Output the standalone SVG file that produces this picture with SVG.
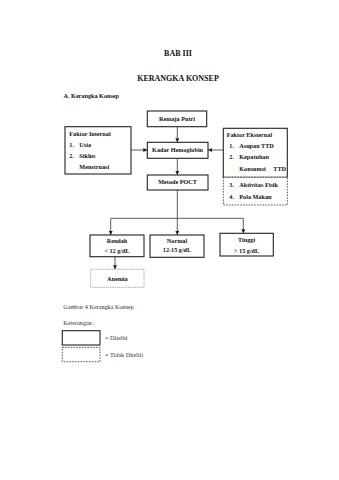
<svg xmlns="http://www.w3.org/2000/svg" width="339" height="480" viewBox="0 0 339 480">
<defs>
<style>
text{font-family:"Liberation Serif","Times New Roman",serif;fill:#111}
.b{font-weight:bold;font-size:6.2px}
.h{font-weight:bold;font-size:8px}
.n{font-size:6.2px;fill:#333}
.box{fill:#fff;stroke:#222;stroke-width:1.1}
.dash{fill:#fff;stroke:#444;stroke-width:0.9;stroke-dasharray:1.6 1.2}
.dot{fill:#fff;stroke:#777;stroke-width:0.7;stroke-dasharray:1 0.8}
.ln{fill:none;stroke:#333;stroke-width:0.8}
</style>
<marker id="ar" viewBox="0 0 6 6" refX="6" refY="3" markerWidth="4" markerHeight="4" orient="auto" markerUnits="userSpaceOnUse">
<path d="M0,0 L6,3 L0,6 z" fill="#222"/>
</marker>
</defs>
<rect width="339" height="480" fill="#fff"/>
<text class="h" x="178" y="56" text-anchor="middle">BAB III</text>
<text class="h" x="178" y="80.5" text-anchor="middle">KERANGKA KONSEP</text>
<text class="b" x="63.5" y="98.3">A.  Kerangka Konsep</text>

<g id="connectors">
<line class="ln" x1="177.3" y1="126.7" x2="177.3" y2="142.3" marker-end="url(#ar)"/>
<line class="ln" x1="131" y1="150" x2="147.3" y2="150" marker-end="url(#ar)"/>
<line class="ln" x1="223.3" y1="150" x2="208" y2="150" marker-end="url(#ar)"/>
<line class="ln" x1="177.3" y1="158.3" x2="177.3" y2="175" marker-end="url(#ar)"/>
<polyline class="ln" points="177.3,190 177.3,218.3"/>
<polyline class="ln" points="110.7,218.3 243.3,218.3"/>
<line class="ln" x1="110.7" y1="218.3" x2="110.7" y2="235" marker-end="url(#ar)"/>
<line class="ln" x1="177.3" y1="218.3" x2="177.3" y2="235" marker-end="url(#ar)"/>
<line class="ln" x1="243.3" y1="218.3" x2="243.3" y2="233.3" marker-end="url(#ar)"/>
<line class="ln" x1="115" y1="256.7" x2="115" y2="269.3" marker-end="url(#ar)"/>
</g>

<g id="remaja">
<rect class="box" x="147.3" y="111" width="59.4" height="15.7"/>
<text class="b" x="177" y="120.5" text-anchor="middle">Remaja Putri</text>
</g>
<g id="kadar">
<rect class="box" x="147.3" y="142.3" width="60.7" height="16"/>
<text class="b" x="177.6" y="152" text-anchor="middle">Kadar Hemoglobin</text>
</g>
<g id="faktor-internal">
<rect class="box" x="65" y="126.7" width="66" height="47.3"/>
<text class="b" x="69.3" y="135.7">Faktor Internal</text>
<text class="b" x="69.3" y="146.7">1.</text><text class="b" x="79.3" y="146.7">Usia</text>
<text class="b" x="69.3" y="157.7">2.</text><text class="b" x="79.3" y="157.7">Siklus</text>
<text class="b" x="79.3" y="169.3">Menstruasi</text>
</g>
<g id="faktor-eksternal">
<rect class="box" x="223.3" y="128.3" width="64" height="49"/>
<text class="b" x="226.7" y="136.7">Faktor Eksternal</text>
<text class="b" x="229.3" y="148.3">1.</text><text class="b" x="239.3" y="148.3">Asupan TTD</text>
<text class="b" x="229.3" y="159.3">2.</text><text class="b" x="239.3" y="159.3">Kepatuhan</text>
<text class="b" x="239.3" y="171">Konsumsi</text><text class="b" x="286" y="171" text-anchor="end">TTD</text>
</g>
<g id="faktor-eksternal-tidak">
<rect class="dash" x="223.3" y="177.3" width="64" height="27.7"/>
<text class="b" x="229.3" y="186.7">3.</text><text class="b" x="239.3" y="186.7">Aktivitas Fisik</text>
<text class="b" x="229.3" y="199.3">4.</text><text class="b" x="239.3" y="199.3">Pola Makan</text>
</g>
<g id="metode">
<rect class="box" x="147.3" y="175" width="60.7" height="15"/>
<text class="b" x="177.6" y="184" text-anchor="middle">Metode POCT</text>
</g>
<g id="rendah">
<rect class="box" x="90" y="235" width="54" height="21.7"/>
<text class="b" x="117" y="243.3" text-anchor="middle">Rendah</text>
<text class="b" x="117" y="253.3" text-anchor="middle">&lt; 12 g/dL</text>
</g>
<g id="normal">
<rect class="box" x="150" y="235" width="54" height="22.3"/>
<text class="b" x="177" y="242.5" text-anchor="middle">Normal</text>
<text class="b" x="177" y="252" text-anchor="middle">12-15 g/dL</text>
</g>
<g id="tinggi">
<rect class="box" x="220" y="233.3" width="53.3" height="22.7"/>
<text class="b" x="246.6" y="241.7" text-anchor="middle">Tinggi</text>
<text class="b" x="246.6" y="252.7" text-anchor="middle">&gt; 15 g/dL</text>
</g>
<g id="anemia">
<rect class="dot" x="90.7" y="269.3" width="53.3" height="18"/>
<text class="b" x="117.3" y="280.7" text-anchor="middle">Anemia</text>
</g>

<text class="n" x="63.3" y="309.3">Gambar 4 Kerangka Konsep</text>
<text class="n" x="63.3" y="325">Keterangan :</text>
<g id="legend-diteliti">
<rect class="box" x="62.3" y="330.7" width="37.7" height="14.3"/>
<text class="n" x="105" y="340.3">= Diteliti</text>
</g>
<g id="legend-tidak">
<rect class="dash" x="62.3" y="347.3" width="37.7" height="14.4"/>
<text class="n" x="105" y="356.7">= Tidak Diteliti</text>
</g>
</svg>
